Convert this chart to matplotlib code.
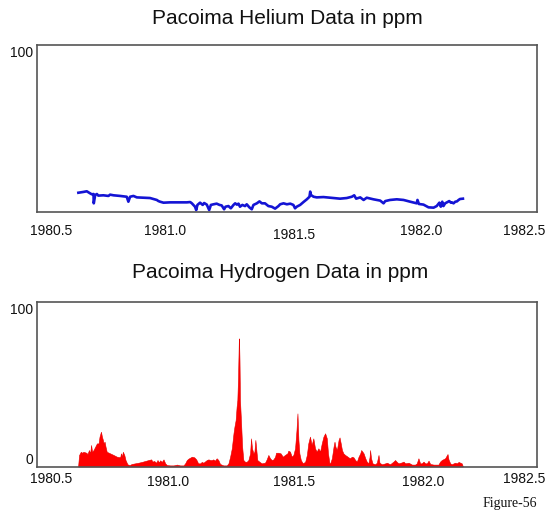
import matplotlib
matplotlib.use("Agg")
import matplotlib.pyplot as plt
from matplotlib.transforms import ScaledTranslation

# ---- Helium (line) ----
he_dates = [1980.613, 1980.634, 1980.648, 1980.662, 1980.669, 1980.676, 1980.677, 1980.683, 1980.690, 1980.696,
            1980.717, 1980.738, 1980.745, 1980.759, 1980.787, 1980.814, 1980.821, 1980.828, 1980.842, 1980.856,
            1980.911, 1980.939, 1980.946, 1980.953, 1980.967, 1980.994, 1981.064, 1981.078, 1981.085, 1981.098,
            1981.103, 1981.108, 1981.119, 1981.130, 1981.136, 1981.147, 1981.157, 1981.164, 1981.175, 1981.188,
            1981.200, 1981.209, 1981.219, 1981.225, 1981.237, 1981.247, 1981.258, 1981.265, 1981.272, 1981.279,
            1981.285, 1981.295, 1981.306, 1981.313, 1981.324, 1981.334, 1981.341, 1981.355, 1981.366, 1981.376,
            1981.389, 1981.403, 1981.417, 1981.431, 1981.445,
            1981.452, 1981.466, 1981.480, 1981.494, 1981.507, 1981.514, 1981.521, 1981.535, 1981.549, 1981.563,
            1981.574, 1981.577, 1981.580, 1981.591, 1981.604, 1981.632, 1981.660, 1981.701, 1981.729, 1981.750,
            1981.760, 1981.768, 1981.785, 1981.799, 1981.812, 1981.840, 1981.868, 1981.882, 1981.889, 1981.909,
            1981.937, 1981.965, 1981.993, 1982.020, 1982.023, 1982.029, 1982.048, 1982.069, 1982.090, 1982.103,
            1982.114, 1982.120, 1982.126, 1982.131, 1982.138, 1982.148, 1982.155, 1982.162, 1982.166, 1982.173,
            1982.180, 1982.187, 1982.194, 1982.200, 1982.212]
he_ppm = [12.0, 12.5, 12.9, 11.6, 11.0, 11.2, 5.4, 10.6, 11.2, 10.2,
          10.4, 10.0, 10.8, 10.4, 10.0, 9.5, 6.4, 9.5, 10.0, 9.1,
          8.7, 7.5, 6.8, 6.4, 5.8, 6.0, 6.0, 6.2, 5.4, 3.3,
          1.2, 4.4, 5.8, 4.4, 5.6, 4.6, 1.2, 4.4, 4.8, 5.2,
          4.4, 4.1, 1.7, 3.3, 3.7, 2.3, 4.4, 5.4, 4.6, 5.2,
          3.3, 4.4, 3.7, 4.8, 2.9, 1.7, 4.4, 5.4, 6.6, 5.4,
          5.4, 3.7, 3.3, 2.1, 3.7,
          4.8, 5.4, 4.8, 5.2, 4.4, 2.3, 3.3, 4.4, 6.2, 7.9,
          9.5, 12.7, 10.6, 9.5, 9.1, 9.3, 8.9, 8.3, 8.7, 9.5,
          10.4, 8.3, 9.1, 7.5, 8.9, 7.9, 7.1, 5.4, 6.8, 7.5,
          7.9, 7.5, 6.4, 5.4, 7.5, 5.0, 4.6, 2.9, 2.7, 3.7,
          5.8, 3.3, 6.4, 3.7, 5.4, 6.2, 6.8, 5.8, 6.0, 5.4,
          6.4, 6.6, 7.5, 8.1, 8.3]

# ---- Hydrogen (filled area) ----
h2_dates = [1980.612, 1980.616, 1980.623, 1980.629, 1980.634, 1980.646, 1980.651, 1980.657, 1980.662, 1980.666,
            1980.670, 1980.676, 1980.683, 1980.690, 1980.697, 1980.701, 1980.707, 1980.711, 1980.715, 1980.718,
            1980.722, 1980.726, 1980.731, 1980.745, 1980.759, 1980.773, 1980.787, 1980.790, 1980.794, 1980.798,
            1980.804, 1980.809, 1980.817, 1980.826, 1980.835, 1980.849, 1980.863, 1980.877, 1980.891, 1980.905,
            1980.916, 1980.921, 1980.928, 1980.937, 1980.942, 1980.948, 1980.953, 1980.960, 1980.967, 1980.974,
            1980.981, 1980.995, 1981.009, 1981.023, 1981.036, 1981.050, 1981.057, 1981.064, 1981.071, 1981.085,
            1981.095, 1981.103, 1981.111, 1981.120, 1981.126, 1981.133, 1981.147, 1981.154, 1981.161,
            1981.168, 1981.174, 1981.181, 1981.188, 1981.195, 1981.202, 1981.216, 1981.230, 1981.237, 1981.244,
            1981.251, 1981.258, 1981.262, 1981.267, 1981.271, 1981.274, 1981.277, 1981.280, 1981.281, 1981.283,
            1981.285, 1981.289, 1981.294, 1981.299, 1981.306, 1981.313, 1981.320, 1981.327, 1981.331, 1981.335,
            1981.341, 1981.345, 1981.349, 1981.353, 1981.357, 1981.366, 1981.375, 1981.389, 1981.396, 1981.403,
            1981.410, 1981.417, 1981.424, 1981.431, 1981.435, 1981.445, 1981.454, 1981.463, 1981.472, 1981.482,
            1981.486, 1981.493, 1981.500, 1981.507, 1981.514, 1981.520, 1981.524, 1981.528, 1981.532, 1981.538,
            1981.546, 1981.556, 1981.563, 1981.569, 1981.576, 1981.583, 1981.590, 1981.597, 1981.604, 1981.611,
            1981.618, 1981.625, 1981.632, 1981.639, 1981.646, 1981.651, 1981.657,
            1981.660, 1981.667, 1981.674, 1981.678, 1981.682, 1981.688, 1981.695, 1981.699, 1981.704, 1981.709,
            1981.715, 1981.722, 1981.729, 1981.736, 1981.743, 1981.750, 1981.757, 1981.764, 1981.771, 1981.778,
            1981.785, 1981.789, 1981.794, 1981.799, 1981.806, 1981.812, 1981.819, 1981.824, 1981.826, 1981.830,
            1981.836, 1981.847, 1981.854, 1981.861, 1981.865, 1981.875, 1981.889, 1981.896, 1981.909, 1981.923,
            1981.930, 1981.937, 1981.944, 1981.958, 1981.965, 1981.972, 1981.986, 1982.000, 1982.013, 1982.020,
            1982.027, 1982.034, 1982.041, 1982.048, 1982.055, 1982.062, 1982.069, 1982.076, 1982.090, 1982.110,
            1982.117, 1982.124, 1982.138, 1982.148, 1982.152, 1982.159, 1982.166, 1982.173, 1982.180, 1982.187,
            1982.194, 1982.201, 1982.207, 1982.212]
h2_ppm = [0.3, 7.3, 9.3, 8.7, 9.3, 8.7, 7.9, 10.4, 8.3, 13.6,
          9.3, 10.4, 12.5, 14.6, 14.6, 18.9, 22.0, 18.9, 16.8, 14.6,
          15.7, 12.5, 9.3, 8.3, 7.3, 6.2, 5.8, 8.3, 6.2, 9.3,
          7.3, 4.1, 1.4, 0.9, 1.6, 2.0, 2.4, 2.9, 3.5, 4.1,
          4.5, 3.1, 3.5, 2.4, 4.1, 2.6, 3.9, 2.9, 4.5, 2.0,
          0.9, 0.7, 0.7, 1.2, 0.7, 0.7, 2.0, 4.1, 5.0, 6.2,
          5.8, 4.5, 2.0, 2.0, 2.9, 2.4, 4.1, 4.5, 4.1,
          4.1, 4.5, 3.7, 5.2, 4.1, 1.6, 0.7, 0.7, 2.0, 6.2,
          11.5, 21.0, 25.2, 29.4, 37.8, 42.0, 56.8, 79.0, 81.0, 67.3,
          42.0, 29.4, 12.5, 4.1, 3.0, 3.0, 4.1, 8.3, 17.8, 11.5,
          8.3, 9.4, 16.8, 10.4, 4.1, 3.0, 2.0, 2.4, 4.5, 7.3,
          5.2, 4.1, 4.5, 6.2, 8.7, 8.7, 8.3, 6.2, 7.3, 8.3,
          10.0, 9.4, 6.2, 7.3, 11.5, 23.1, 33.6, 16.8, 8.3, 4.1,
          2.0, 3.0, 7.3, 14.6, 18.9, 13.6, 17.8, 11.5, 9.4, 11.5,
          9.4, 14.6, 18.9, 21.0, 17.8, 8.3, 2.0,
          2.0, 5.2, 12.5, 15.7, 12.5, 10.4, 16.8, 18.4, 14.6, 10.4,
          8.3, 7.3, 6.6, 5.8, 5.2, 6.2, 5.8, 4.1, 3.1, 6.2,
          8.3, 10.4, 9.4, 8.3, 5.2, 3.1, 2.0, 6.2, 10.4, 5.2,
          2.0, 1.4, 2.4, 7.3, 2.4, 1.4, 2.0, 2.4, 1.4, 3.1,
          4.1, 2.9, 2.0, 2.6, 3.1, 2.0, 2.4, 1.2, 1.2, 2.0,
          5.2, 2.0, 2.0, 3.1, 2.0, 2.0, 3.7, 1.6, 1.2, 1.2,
          3.1, 4.1, 5.2, 7.9, 4.5, 2.0, 1.4, 2.0, 2.4, 2.0,
          2.9, 2.4, 2.0, 0.0]

year_ticks = [1980.5, 1981.0, 1981.5, 1982.0, 1982.5]
year_labels = ["1980.5", "1981.0", "1981.5", "1982.0", "1982.5"]

SANS = "Liberation Sans"
TEXT = "#111111"
FRAME = "#555555"

fig = plt.figure(figsize=(5.45, 5.14), dpi=100)
W, H = 545.0, 514.0


def make_axes(top_px, bottom_px):
    left, right = 37.0, 537.0
    return fig.add_axes([left / W, 1 - bottom_px / H, (right - left) / W, (bottom_px - top_px) / H])


def style(ax, yticks, label_shift_px, label_pad, ylabel_shift_px):
    ax.set_xlim(1980.441, 1982.52)
    ax.set_ylim(0, 104)
    for s in ax.spines.values():
        s.set_color(FRAME)
        s.set_linewidth(1.2)
    ax.set_xticks(year_ticks)
    ax.set_xticklabels(year_labels, fontfamily=SANS, fontsize=10, color=TEXT)
    ax.set_yticks(yticks)
    ax.set_yticklabels([str(v) for v in yticks], fontfamily=SANS, fontsize=10, color=TEXT)
    ax.tick_params(axis="x", length=0, pad=label_pad)
    ax.tick_params(axis="y", length=0, pad=3)
    for lab, (dx, dy) in zip(ax.get_xticklabels(), label_shift_px):
        lab.set_transform(lab.get_transform() + ScaledTranslation(dx / 100, dy / 100, fig.dpi_scale_trans))
    for lab, dy in zip(ax.get_yticklabels(), ylabel_shift_px):
        lab.set_transform(lab.get_transform() + ScaledTranslation(0, dy / 100, fig.dpi_scale_trans))


# Helium panel
ax1 = make_axes(45, 212)
ax1.plot(he_dates, he_ppm, color="#1414d4", linewidth=1.9, solid_joinstyle="round")
style(ax1, [100], [(0, 0), (-6, 0), (2, -4), (9, 0), (-8, 0)], 8.5, [0])
fig.text(287 / W, 1 - 18 / H, "Pacoima Helium Data in ppm", ha="center", va="center",
         fontfamily=SANS, fontsize=15, color=TEXT)

# Hydrogen panel
ax2 = make_axes(302, 466.5)
ax2.fill_between(h2_dates, h2_ppm, 0, color="#ff0000", linewidth=0.4, edgecolor="#e60000")
style(ax2, [0, 100], [(0, 3), (-3, 0), (2, 0), (11, 0), (-8, 3)], 6, [7.5, 0])
fig.text(280 / W, 1 - 272 / H, "Pacoima Hydrogen Data in ppm", ha="center", va="center",
         fontfamily=SANS, fontsize=15, color=TEXT)

fig.text(510 / W, 1 - 503 / H, "Figure-56", ha="center", va="center",
         fontfamily="Liberation Serif", fontsize=10, color=TEXT)

fig.savefig("out.png", dpi=100)
